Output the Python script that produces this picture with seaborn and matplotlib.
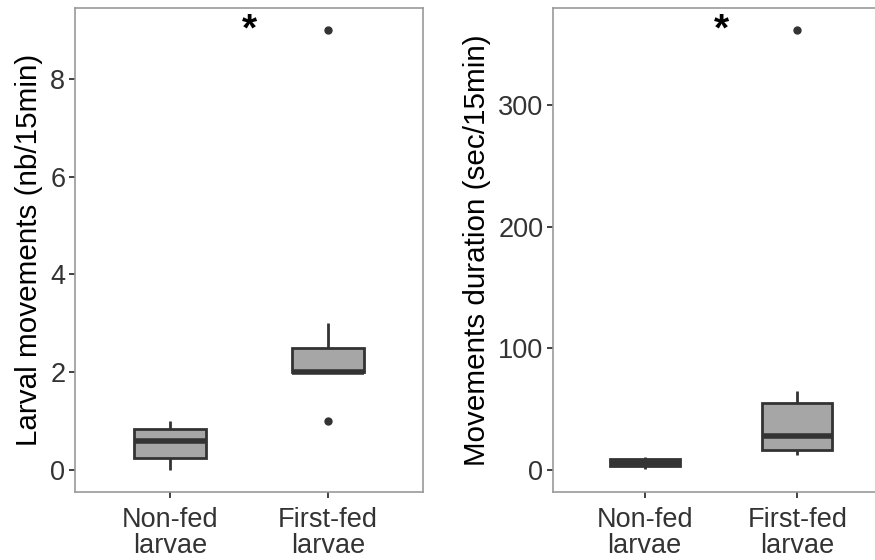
import numpy as np
import pandas as pd
import matplotlib
matplotlib.use("Agg")
import matplotlib.pyplot as plt
import seaborn as sns

groups = ["Non-fed\nlarvae", "First-fed\nlarvae"]
movements_nonfed = [0, 0.25, 0.6, 0.83, 1]
movements_firstfed = [1, 2, 2, 2, 2, 2.5, 2.5, 3, 9]
duration_nonfed = [0.5, 3, 5.5, 9, 11]
duration_firstfed = [12, 15, 16.5, 20, 28, 45, 55, 65, 362]
ylabels = ["Larval movements (nb/15min)", "Movements duration (sec/15min)"]
left_ticks = [0, 2, 4, 6, 8]
right_ticks = [0, 100, 200, 300]
star_y = [9.0, 362.0]

sns.set_theme(style="white")
plt.rcParams["font.family"] = ["Liberation Sans", "DejaVu Sans"]

df_mov = pd.DataFrame({
    "group": [groups[0]] * len(movements_nonfed) + [groups[1]] * len(movements_firstfed),
    "value": movements_nonfed + movements_firstfed,
})
df_dur = pd.DataFrame({
    "group": [groups[0]] * len(duration_nonfed) + [groups[1]] * len(duration_firstfed),
    "value": duration_nonfed + duration_firstfed,
})

fig = plt.figure(figsize=(8.75, 5.6), dpi=100)
W, H = 875, 560
ax1 = fig.add_axes([75 / W, 68 / H, 348 / W, 484 / H])
ax2 = fig.add_axes([553 / W, 68 / H, 336 / W, 484 / H])

dark = "#333333"
for ax, df, ticks, ylabel, lim, sy in [
    (ax1, df_mov, left_ticks, ylabels[0], (-0.45, 9.45), star_y[0]),
    (ax2, df_dur, right_ticks, ylabels[1], (-18.1, 380.1), star_y[1]),
]:
    sns.boxplot(data=df, x="group", y="value", order=groups, ax=ax,
                width=0.46, color="#A6A6A6", linecolor=dark, linewidth=2,
                saturation=1, fliersize=5, showcaps=False, whis=1.5,
                flierprops={"marker": "o", "markerfacecolor": dark,
                            "markeredgecolor": dark},
                medianprops={"linewidth": 4, "color": dark})
    ax.set_xlim(-0.6, 1.6)
    ax.set_ylim(*lim)
    ax.set_yticks(ticks)
    ax.set_yticklabels([str(t) for t in ticks])
    ax.set_xlabel("")
    ax.set_ylabel(ylabel, fontsize=21.3, color="black", labelpad=5)
    ax.tick_params(axis="both", which="both", length=4, width=1.3,
                   color=dark, labelsize=19.5, labelcolor=dark, pad=3,
                   left=True, bottom=True)
    ax.tick_params(axis="x", pad=7)
    for lab in ax.get_xticklabels():
        lab.set_linespacing(1.0)
    for s in ax.spines.values():
        s.set_color("#9a9a9a")
        s.set_linewidth(1.2)
    ax.grid(False)
    ax.text(0.5, sy, "*", ha="center", va="center", fontsize=28,
            fontweight="bold", color="black")

fig.savefig("out.png", dpi=100)
